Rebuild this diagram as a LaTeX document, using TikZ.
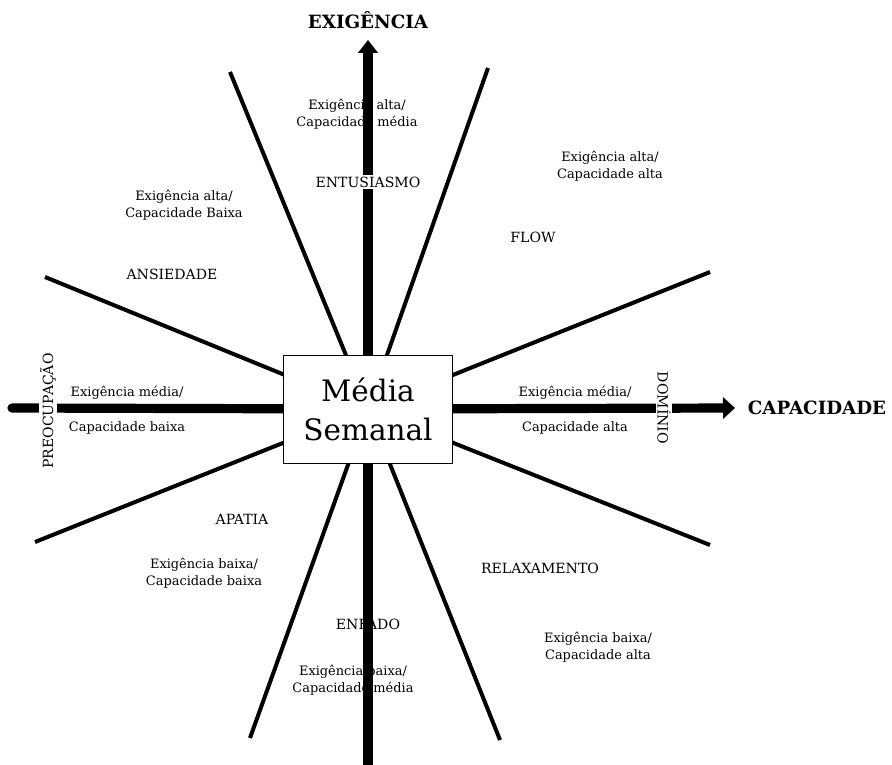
\documentclass[tikz,border=0pt]{standalone}
\usepackage{fontspec}
\setmainfont{DejaVu Serif}
\usetikzlibrary{arrows.meta}

\begin{document}
\begin{tikzpicture}[x=0.25mm, y=-0.25mm,
  axis/.style={line width=2.3mm},
  spoke/.style={line width=1mm},
  zone/.style={font=\fontsize{10}{12}\selectfont},
  quad/.style={font=\fontsize{9.2}{12.4}\selectfont, align=center},
  title/.style={font=\fontsize{13}{15}\selectfont\bfseries}]
\useasboundingbox (0, 0) rectangle (892, 765);
% centre and the far ends of the spokes
\coordinate (mid) at (368, 409);
\coordinate (top) at (368, 40);
\coordinate (bottom) at (368, 765);
\coordinate (left) at (12, 408);
\coordinate (right) at (735, 408);
\coordinate (nnw) at (230, 72);
\coordinate (nne) at (488, 68);
\coordinate (wnw) at (45, 277);
\coordinate (ene) at (710, 272);
\coordinate (wsw) at (35, 542);
\coordinate (ese) at (710, 545);
\coordinate (ssw) at (250, 738);
\coordinate (sse) at (500, 740);
\draw [axis, -{Triangle[width=4.8mm, length=3.2mm]}] (mid) -- (top);
\draw [axis, -{Triangle[width=5.3mm, length=3mm]}] (mid) -- (right);
\draw [axis, line cap=round] (mid) -- (left);
\draw [axis] (mid) -- (bottom);
\draw [spoke] (mid) -- (nnw);
\draw [spoke] (mid) -- (nne);
\draw [spoke] (mid) -- (wnw);
\draw [spoke] (mid) -- (ene);
\draw [spoke] (mid) -- (wsw);
\draw [spoke] (mid) -- (ese);
\draw [spoke] (mid) -- (ssw);
\draw [spoke] (mid) -- (sse);
\node [draw, line width=0.6pt, fill=white, minimum width=42.25mm, minimum height=27mm, align=center, font=\fontsize{21}{27.7}\selectfont] (box) at (mid) {Média\\Semanal};
% axis titles
\node [title] (exig) at (368, 20) {EXIGÊNCIA};
\node [title] (capac) at (817, 408) {CAPACIDADE};
% zones
\node [zone, fill=white, inner sep=1pt] (entus) at (368, 182) {ENTUSIASMO};
\node [zone] (flow) at (533, 237) {FLOW};
\node [zone] (ansied) at (172, 274) {ANSIEDADE};
\node [zone, fill=white, inner sep=1pt, rotate=90] (preoc) at (48, 411) {PREOCUPAÇÃO};
\node [zone, fill=white, inner sep=1pt, rotate=-90] (domin) at (664, 408) {DOMÍNIO};
\node [zone] (apatia) at (242, 519) {APATIA};
\node [zone] (relax) at (540, 568) {RELAXAMENTO};
\node [zone] (enfado) at (368, 624) {ENFADO};
% demand / capacity
\node [quad] (altamed) at (357, 114) {Exigência alta/\\Capacidade média};
\node [quad] (altaalta) at (610, 166) {Exigência alta/\\Capacidade alta};
\node [quad] (altabaixa) at (184, 205) {Exigência alta/\\Capacidade Baixa};
\node [quad] (medbaixa1) at (127, 393) {Exigência média/};
\node [quad] (medbaixa2) at (127, 428) {Capacidade baixa};
\node [quad] (medalta1) at (575, 393) {Exigência média/};
\node [quad] (medalta2) at (575, 428) {Capacidade alta};
\node [quad] (baixabaixa) at (204, 573) {Exigência baixa/\\Capacidade baixa};
\node [quad] (baixaalta) at (598, 647) {Exigência baixa/\\Capacidade alta};
\node [quad] (baixamed) at (353, 680) {Exigência baixa/\\Capacidade média};
\end{tikzpicture}
\end{document}
